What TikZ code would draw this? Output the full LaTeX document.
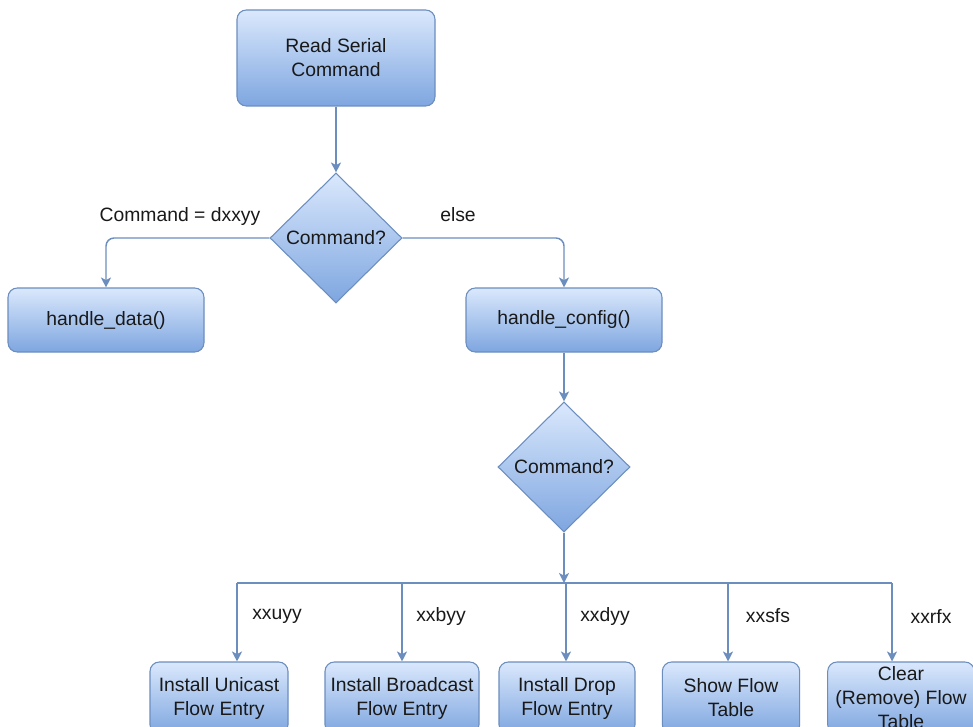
\documentclass[tikz,border=0pt]{standalone}
\usepackage{fontspec}
\setmainfont{Liberation Sans}
\usetikzlibrary{shapes.geometric,arrows.meta}
\definecolor{boxtop}{HTML}{DAE8FC}
\definecolor{boxbot}{HTML}{7EA6E0}
\definecolor{edgeblue}{HTML}{6C8EBF}
\begin{document}
\begin{tikzpicture}[x=0.75pt,y=-0.75pt,
  every node/.style={font=\fontsize{14.5}{18}\selectfont, text=black!90},
  procbox/.style={draw=edgeblue, line width=0.8pt, rounded corners=7pt,
    top color=boxtop, bottom color=boxbot, align=center, inner sep=0pt},
  decision/.style={diamond, draw=edgeblue, line width=0.8pt,
    top color=boxtop, bottom color=boxbot, inner sep=0pt,
    minimum width=99pt, minimum height=97.5pt},
  flow/.style={draw=edgeblue, line width=1.1pt, rounded corners=6pt,
    -{Stealth[length=7.5pt,width=7.5pt,inset=2pt]}},
  wire/.style={draw=edgeblue, line width=1.1pt},
  lbl/.style={inner sep=0pt}
]
\clip (0,0) rectangle (973,727);
\fill[white] (0,0) rectangle (973,727);

% process and decision nodes
\node[procbox, minimum width=148.5pt, minimum height=72pt] (read) at (336,58) {Read Serial\\Command};
\node[decision] (cmd1) at (336,238) {Command?};
\node[procbox, minimum width=147pt, minimum height=48pt] (data) at (106,320) {handle\_data()};
\node[procbox, minimum width=147pt, minimum height=48pt] (config) at (564,320) {handle\_config()};
\node[decision] (cmd2) at (564,467) {Command?};

% action boxes in the bottom row
\node[procbox, minimum width=103.5pt, minimum height=54pt] (u1) at (219,698) {Install Unicast\\Flow Entry};
\node[procbox, minimum width=115.5pt, minimum height=54pt] (u2) at (402,698) {Install Broadcast\\Flow Entry};
\node[procbox, minimum width=102pt, minimum height=54pt] (u3) at (567,698) {Install Drop\\Flow Entry};
\node[procbox, minimum width=103pt, minimum height=54pt] (u4) at (731,698) {Show Flow\\Table};
\node[procbox, minimum width=110pt, minimum height=54pt] (u5) at (901,698) {Clear\\(Remove) Flow\\Table};

% connectors
\draw[flow] (read) -- (cmd1);
\draw[flow] (cmd1.west) -| (data.north);
\draw[flow] (cmd1.east) -| (config.north);
\draw[flow] (config) -- (cmd2);

\coordinate (hub) at (564,583);
\coordinate (b1) at (237,583);
\coordinate (b2) at (402,583);
\coordinate (b3) at (566,583);
\coordinate (b4) at (728,583);
\coordinate (b5) at (892,583);
\draw[flow] (cmd2.south) -- (hub);
\draw[wire] (b1) -- (b5);
\draw[flow] (b1) -- (b1 |- u1.north);
\draw[flow] (b2) -- (b2 |- u2.north);
\draw[flow] (b3) -- (b3 |- u3.north);
\draw[flow] (b4) -- (b4 |- u4.north);
\draw[flow] (b5) -- (b5 |- u5.north);

% connector labels
\node[lbl] (ldx) at (180,217) {Command = dxxyy};
\node[lbl] (lelse) at (458,215) {else};
\node[lbl] (l1) at (277,616) {xxuyy};
\node[lbl] (l2) at (441,616) {xxbyy};
\node[lbl] (l3) at (605,616) {xxdyy};
\node[lbl] (l4) at (768,616) {xxsfs};
\node[lbl] (l5) at (931,616) {xxrfx};
\end{tikzpicture}
\end{document}
